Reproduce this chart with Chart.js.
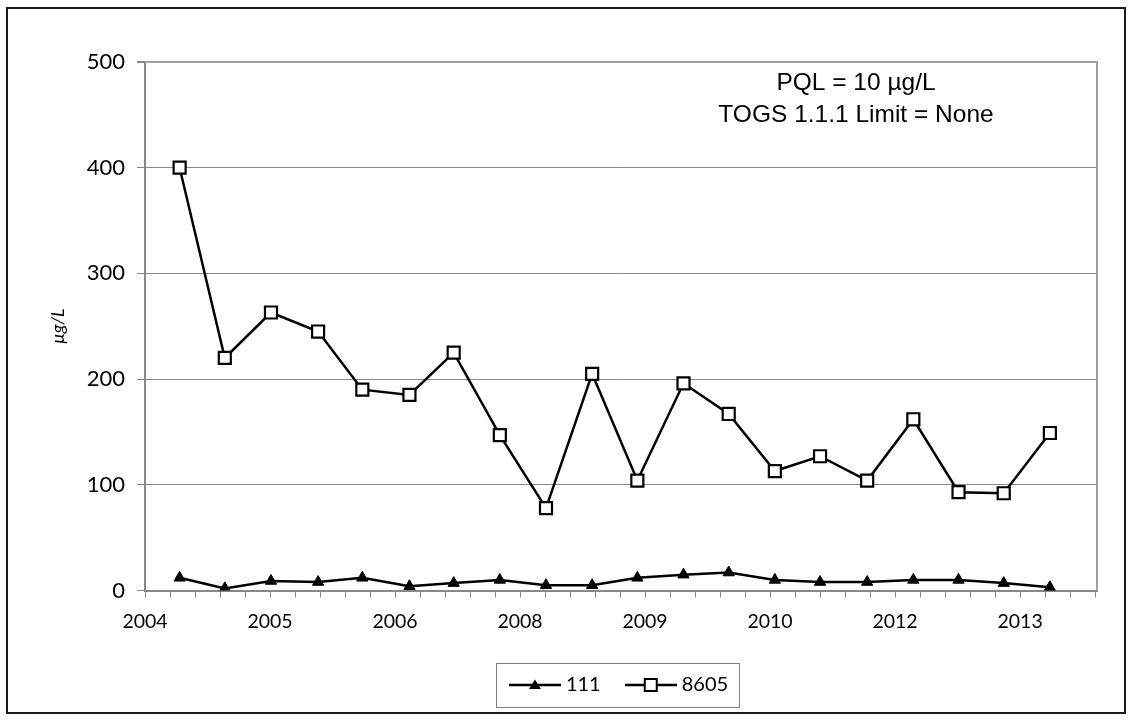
<!DOCTYPE html>
<html>
<head>
<meta charset="utf-8">
<script src="https://cdn.jsdelivr.net/npm/chart.js@4.4.1/dist/chart.umd.min.js"></script>
<style>
  body { margin: 0; background: #fff; }
  #wrap { position: absolute; left: 0; top: 0; width: 1132px; height: 721px; }
  #frame { position: absolute; left: 6px; top: 7px; width: 1116px; height: 703px; border: 2px solid #1a1a1a; pointer-events: none; }
</style>
</head>
<body>
<div id="wrap"><canvas id="wellChart" width="1132" height="721"></canvas></div>
<div id="frame"></div>
<script>
/* global Chart */
// sample dates (decimal years) and concentrations, ug/L
var sampleDates = [2004.56, 2005.03, 2005.51, 2006.00, 2006.46, 2006.95, 2007.41, 2007.89, 2008.37, 2008.85,
                   2009.32, 2009.80, 2010.27, 2010.75, 2011.22, 2011.71, 2012.19, 2012.66, 2013.13, 2013.61];
var well111 = [12, 2, 9, 8, 12, 4, 7, 10, 5, 5, 12, 15, 17, 10, 8, 8, 10, 10, 7, 3];
var well8605 = [400, 220, 263, 245, 190, 185, 225, 147, 78, 205, 104, 196, 167, 113, 127, 104, 162, 93, 92, 149];
var seriesNames = ['111', '8605'];

var tickLabels = ['2004', '2005', '2006', '2008', '2009', '2010', '2012', '2013'];
var xMin = 2004.2, xMax = 2014.1, minorStep = 0.26, labelEvery = 5;
var noteLines = ['PQL = 10 \u00b5g/L', 'TOGS 1.1.1 Limit = None'];

function points(values){
    return values.map(function(v, i){ return {x: sampleDates[i], y: v}; });
}

function makeIcon(kind){
    var c = document.createElement('canvas');
    c.width = 52; c.height = 20;
    var g = c.getContext('2d');
    g.strokeStyle = '#000';
    g.lineWidth = 2.5;
    g.beginPath(); g.moveTo(0, 10); g.lineTo(52, 10); g.stroke();
    if (kind === 'triangle') {
        g.fillStyle = '#000';
        g.beginPath(); g.moveTo(26, 4.5); g.lineTo(32, 14); g.lineTo(20, 14); g.closePath(); g.fill();
    } else {
        g.fillStyle = '#fff';
        g.lineWidth = 2;
        g.fillRect(20, 4, 12, 12);
        g.strokeRect(20, 4, 12, 12);
    }
    return c;
}
var icons = [makeIcon('triangle'), makeIcon('rect')];

var decorations = {
    id: 'decorations',
    beforeDatasetsDraw: function(chart){
        var ctx = chart.ctx, a = chart.chartArea;
        ctx.save();
        ctx.strokeStyle = '#a0a0a0';
        ctx.lineWidth = 2;
        ctx.beginPath();
        ctx.moveTo(a.left, a.top); ctx.lineTo(a.right, a.top); ctx.lineTo(a.right, a.bottom);
        ctx.stroke();
        ctx.restore();
    },
    afterDraw: function(chart){
        var ctx = chart.ctx, a = chart.chartArea;
        ctx.save();
        ctx.fillStyle = '#000';
        ctx.font = '24.5px "Liberation Sans", Arial, sans-serif';
        ctx.textAlign = 'center';
        ctx.textBaseline = 'alphabetic';
        var cx = a.right - 241;
        ctx.fillText(noteLines[0], cx, a.top + 28);
        ctx.fillText(noteLines[1], cx, a.top + 60);

        // box round the legend
        var boxes = chart.legend.legendHitBoxes;
        if (boxes && boxes.length) {
            var first = boxes[0], last = boxes[boxes.length - 1];
            var cy = first.top + first.height / 2;
            var bl = Math.round(first.left - 18);
            ctx.strokeStyle = '#808080';
            ctx.lineWidth = 1;
            ctx.strokeRect(bl + 0.5, Math.round(cy - 22) + 0.5,
                           Math.round(last.left + last.width + 11 - bl), 44);
        }
        ctx.restore();
    }
};

var ctx = document.getElementById('wellChart').getContext('2d');
var config = {
    type: 'line',
    data: {
        datasets: [{
            label: seriesNames[0],
            data: points(well111),
            borderColor: '#000',
            borderWidth: 2.5,
            pointStyle: 'triangle',
            pointRadius: 6.5,
            pointBackgroundColor: '#000',
            pointBorderColor: '#000',
            pointBorderWidth: 1
        }, {
            label: seriesNames[1],
            data: points(well8605),
            borderColor: '#000',
            borderWidth: 2.5,
            pointStyle: 'rect',
            pointRadius: 8.5,
            pointBackgroundColor: '#fff',
            pointBorderColor: '#000',
            pointBorderWidth: 2.2
        }]
    },
    options: {
        responsive: false,
        animation: false,
        devicePixelRatio: 1,
        layout: { padding: { left: 43, right: 35, top: 62, bottom: 16 } },
        plugins: {
            tooltip: { enabled: false },
            legend: {
                position: 'bottom',
                fullSize: false,
                labels: {
                    color: '#000',
                    font: { family: 'Lato', size: 20 },
                    padding: 29,
                    usePointStyle: true,
                    pointStyleWidth: 42,
                    generateLabels: function(chart){
                        return Chart.defaults.plugins.legend.labels.generateLabels(chart).map(function(l, i){
                            l.pointStyle = icons[i];
                            return l;
                        });
                    }
                }
            }
        },
        scales: {
            x: {
                type: 'linear',
                min: xMin,
                max: xMax,
                afterBuildTicks: function(scale){
                    var t = [];
                    for (var k = 0; xMin + k * minorStep <= xMax + 1e-9; k++) {
                        t.push({value: xMin + k * minorStep});
                    }
                    scale.ticks = t;
                },
                afterFit: function(scale){ scale.height = 55.5; },
                ticks: {
                    autoSkip: false,
                    maxRotation: 0,
                    minRotation: 0,
                    padding: 13,
                    color: '#000',
                    font: { family: 'Lato', size: 19.5 },
                    callback: function(v, i){
                        if (i % labelEvery !== 0) return '';
                        return tickLabels[i / labelEvery] || '';
                    }
                },
                grid: {
                    drawOnChartArea: false,
                    drawTicks: true,
                    tickLength: 7,
                    tickColor: '#888'
                },
                border: { color: '#888', width: 2 }
            },
            y: {
                min: 0,
                max: 500,
                afterFit: function(scale){ scale.width = 102; },
                ticks: {
                    stepSize: 100,
                    padding: 12,
                    color: '#000',
                    font: { family: 'Lato', size: 22 }
                },
                title: {
                    display: true,
                    text: '\u00b5g/L',
                    color: '#000',
                    font: { family: 'Lato', size: 18, style: 'italic' }
                },
                grid: {
                    color: function(c){ return c.tick && c.tick.value === 500 ? '#a0a0a0' : '#888'; },
                    lineWidth: function(c){ return c.tick && c.tick.value === 500 ? 2 : 1; },
                    tickLength: 8,
                    tickColor: '#888'
                },
                border: { color: '#888', width: 2 }
            }
        }
    },
    plugins: [decorations]
};
var wellChart = new Chart(ctx, config);
</script>
</body>
</html>
